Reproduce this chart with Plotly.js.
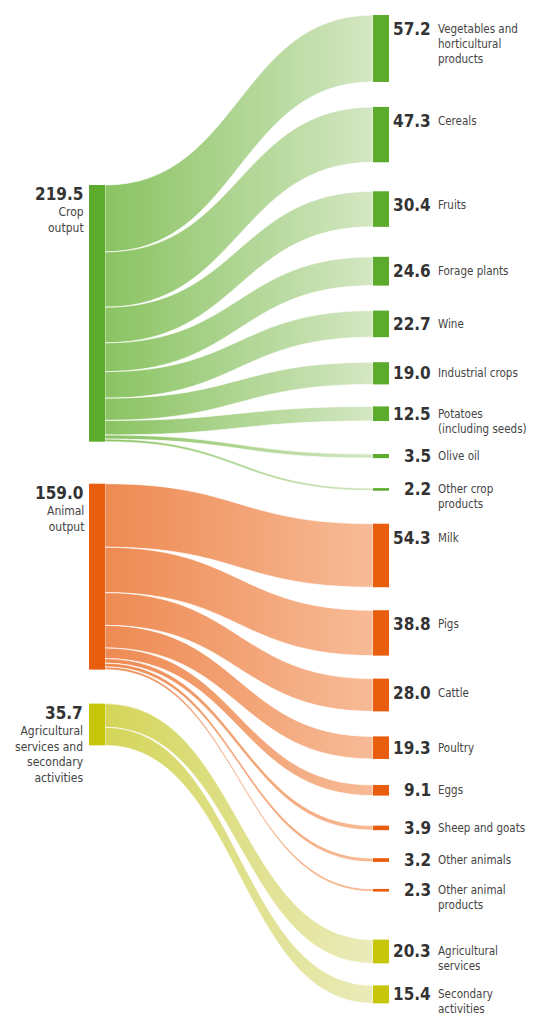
<!DOCTYPE html>
<html><head><meta charset="utf-8">
<script src="https://cdn.plot.ly/plotly-3.0.1.min.js"></script>
<style>html,body{margin:0;padding:0;background:#fff}</style>
</head><body>
<div id="chart" style="width:541px;height:1016px"></div>
<script>
// ---------------- data ----------------
const sourceLabels = ['Crop<br>output', 'Animal<br>output', 'Agricultural<br>services and<br>secondary<br>activities'];
const sourceTotals = [219.5, 159.0, 35.7];

const targetLabels = [
  'Vegetables and<br>horticultural<br>products', 'Cereals', 'Fruits', 'Forage plants', 'Wine',
  'Industrial crops', 'Potatoes<br>(including seeds)', 'Olive oil', 'Other crop<br>products',
  'Milk', 'Pigs', 'Cattle', 'Poultry', 'Eggs', 'Sheep and goats', 'Other animals',
  'Other animal<br>products', 'Agricultural<br>services', 'Secondary<br>activities'
];
const targetValues = [57.2, 47.3, 30.4, 24.6, 22.7, 19.0, 12.5, 3.5, 2.2,
                      54.3, 38.8, 28.0, 19.3, 9.1, 3.9, 3.2, 2.3,
                      20.3, 15.4];
const targetSource = [0,0,0,0,0,0,0,0,0, 1,1,1,1,1,1,1,1, 2,2];

// ---------------- layout / style ----------------
const W = 541, H = 1016;
const KY = 1.17;              // px per value unit
const NODE_W = 16;
const LEFT_X = 97, RIGHT_X = 381;
const leftTop0 = 185, leftGaps = [42, 34];
const rightTop0 = 15;
const rightGaps = [25,29,30,25,25,22,33,30,33,23,23,25,26,30,28,27,48,22];
const nodeColors = ['#5dab2c', '#e85e0e', '#c8c60a'];
const gradStops = [['#8ac362', '#d4e7c3'], ['#ee8a52', '#f7bb97'], ['#d4d558', '#eaebbb']];
const FONT = "'Liberation Sans Narrow', 'DejaVu Sans Condensed', 'Roboto Condensed', Roboto, sans-serif";
const TXT = '#333333';

// sums per source (node value = outflow)
const srcSums = sourceLabels.map((_, i) => targetValues.reduce((a, v, j) => a + (targetSource[j] === i ? v : 0), 0));
const total = targetValues.reduce((a, b) => a + b, 0);
const pad = (H - KY * total) / (targetValues.length - 1);

// node tops (px)
const leftTops = [];
let y = leftTop0;
srcSums.forEach((s, i) => { if (i > 0) y += leftGaps[i - 1]; leftTops.push(y); y += s * KY; });
const rightTops = [];
y = rightTop0;
targetValues.forEach((v, i) => { if (i > 0) y += rightGaps[i - 1]; rightTops.push(y); y += v * KY; });

const nodeX = [], nodeY = [], nodeCol = [], nodeLab = [];
srcSums.forEach((s, i) => {
  nodeX.push(LEFT_X / W); nodeY.push((leftTops[i] + s * KY / 2) / H);
  nodeCol.push(nodeColors[i]); nodeLab.push(sourceLabels[i].replace(/<br>/g, ' '));
});
targetValues.forEach((v, i) => {
  nodeX.push(RIGHT_X / W); nodeY.push((rightTops[i] + v * KY / 2) / H);
  nodeCol.push(nodeColors[targetSource[i]]); nodeLab.push(targetLabels[i].replace(/<br>/g, ' '));
});

const linkSrc = targetSource.slice();
const linkTgt = targetValues.map((_, i) => i + sourceLabels.length);
const linkCol = targetSource.map(s => gradStops[s][0]);

const data = [{
  type: 'sankey',
  arrangement: 'fixed',
  domain: {x: [0, 1], y: [0, 1]},
  node: {
    label: nodeLab, x: nodeX, y: nodeY, color: nodeCol,
    thickness: NODE_W, pad: pad, line: {width: 0}
  },
  link: {
    source: linkSrc, target: linkTgt, value: targetValues.slice(),
    color: linkCol, line: {color: 'rgba(255,255,255,0.9)', width: 0.8}
  },
  textfont: {color: 'rgba(0,0,0,0)', size: 1}
}];

// annotations
const ann = [];
const px2y = p => 1 - p / H;
srcSums.forEach((s, i) => {
  const top = leftTops[i];
  ann.push({xref: 'paper', yref: 'paper', x: 85 / W, y: px2y(top + 9), xanchor: 'right', yanchor: 'middle',
    text: '<b>' + sourceTotals[i].toFixed(1) + '</b>', showarrow: false,
    font: {family: FONT, size: 17, color: TXT}});
  ann.push({xref: 'paper', yref: 'paper', x: 85 / W, y: px2y(top + 19), xanchor: 'right', yanchor: 'top',
    align: 'right', text: sourceLabels[i], showarrow: false, borderpad: 0,
    font: {family: FONT, size: 12, color: '#444'}});
});
targetValues.forEach((v, i) => {
  const top = rightTops[i], h = v * KY;
  const c = Math.min(top + h / 2, top + 14);
  ann.push({xref: 'paper', yref: 'paper', x: 433 / W, y: px2y(c), xanchor: 'right', yanchor: 'middle',
    text: '<b>' + v.toFixed(1) + '</b>', showarrow: false,
    font: {family: FONT, size: 17, color: TXT}});
  ann.push({xref: 'paper', yref: 'paper', x: 437 / W, y: px2y(c - 8), xanchor: 'left', yanchor: 'top',
    align: 'left', text: targetLabels[i], showarrow: false, borderpad: 0,
    font: {family: FONT, size: 11.5, color: '#444'}});
});

const layout = {
  width: W, height: H,
  margin: {l: 0, r: 0, t: 0, b: 0},
  paper_bgcolor: '#ffffff',
  font: {family: FONT},
  annotations: ann
};

Plotly.newPlot('chart', data, layout, {displayModeBar: false, staticPlot: true}).then(gd => {
  const svg = gd.querySelector('svg.main-svg');
  const NS = 'http://www.w3.org/2000/svg';
  let defs = svg.querySelector('defs');
  if (!defs) { defs = document.createElementNS(NS, 'defs'); svg.insertBefore(defs, svg.firstChild); }
  gradStops.forEach((st, i) => {
    const g = document.createElementNS(NS, 'linearGradient');
    g.setAttribute('id', 'lg' + i);
    g.setAttribute('x1', '0'); g.setAttribute('y1', '0'); g.setAttribute('x2', '1'); g.setAttribute('y2', '0');
    [[0, st[0]], [1, st[1]]].forEach(([o, c]) => {
      const s = document.createElementNS(NS, 'stop');
      s.setAttribute('offset', o); s.setAttribute('stop-color', c);
      g.appendChild(s);
    });
    defs.appendChild(g);
  });
  gd.querySelectorAll('.sankey-link').forEach(p => {
    const d = p.__data__;
    let src = null;
    try { src = d.link.source.pointNumber; } catch (e) {}
    if (src !== null && src !== undefined && src < gradStops.length) {
      p.style.fill = 'url(#lg' + src + ')';
      p.style.fillOpacity = 1;
    }
  });
});
</script>
</body></html>
